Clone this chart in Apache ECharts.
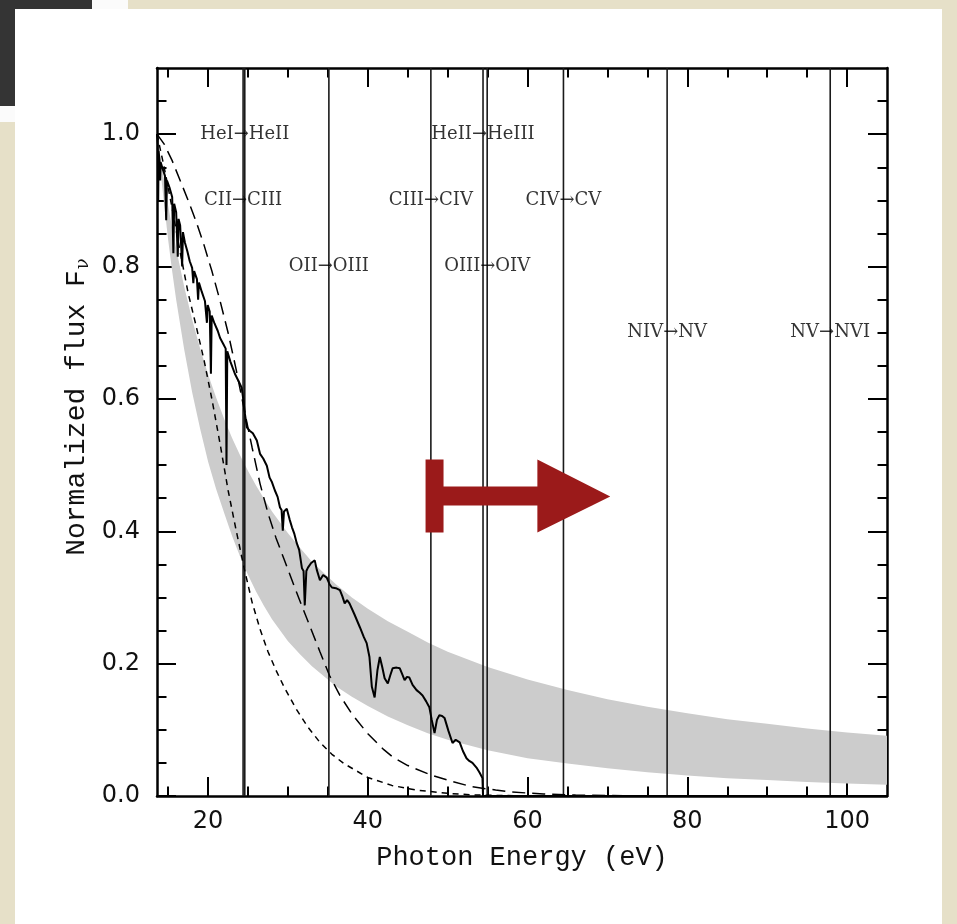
<!DOCTYPE html>
<html>
<head>
<meta charset="utf-8">
<script src="https://cdn.jsdelivr.net/npm/echarts@6/dist/echarts.min.js"></script>
<style>
  html, body { margin: 0; padding: 0; }
  body { width: 957px; height: 924px; position: relative; overflow: hidden; background: #E6E0C8; }
  .dark { position: absolute; left: 0; top: 0; width: 92px; height: 106px; background: #343434; box-shadow: 2px 2px 3px rgba(0,0,0,0.35); }
  .strip1 { position: absolute; left: 92px; top: 0; width: 36px; height: 9px; background: #fbfbfb; }
  .strip2 { position: absolute; left: 0; top: 106px; width: 15px; height: 16px; background: #fbfbfb; }
  .panel { position: absolute; left: 15px; top: 9px; width: 927px; height: 915px; background: #ffffff; }
  #c { position: absolute; left: 0; top: 0; width: 957px; height: 924px; }
</style>
</head>
<body>
<div class="dark"></div>
<div class="strip1"></div>
<div class="strip2"></div>
<div class="panel"></div>
<div id="c"></div>
<script>
// ---------------- data ----------------
const energyGrid = [13.6, 14, 14.5, 15, 15.5, 16, 17, 18, 19, 20, 21, 22, 23, 24, 25, 26, 27, 28, 30, 31.5, 33, 36, 38, 40, 42.5, 45, 47.5, 50, 55, 60, 65, 70, 75, 80, 85, 90, 95, 100, 105];
const bandUpper  = [1.0, 0.967, 0.928, 0.892, 0.858, 0.827, 0.770, 0.720, 0.676, 0.637, 0.602, 0.570, 0.541, 0.515, 0.491, 0.469, 0.449, 0.430, 0.397, 0.375, 0.354, 0.320, 0.300, 0.283, 0.264, 0.248, 0.232, 0.218, 0.195, 0.176, 0.160, 0.146, 0.135, 0.125, 0.116, 0.109, 0.102, 0.096, 0.091];
const bandLower  = [1.0, 0.950, 0.893, 0.840, 0.793, 0.750, 0.675, 0.610, 0.555, 0.505, 0.464, 0.428, 0.393, 0.362, 0.334, 0.309, 0.287, 0.267, 0.234, 0.214, 0.196, 0.166, 0.150, 0.136, 0.120, 0.107, 0.095, 0.085, 0.069, 0.057, 0.049, 0.042, 0.036, 0.031, 0.027, 0.024, 0.021, 0.019, 0.017];

const spectrum = [
  [13.6,1.0],[13.7,0.985],[13.75,0.90],[13.8,0.975],[13.9,0.962],[14.0,0.93],[14.05,0.958],[14.3,0.948],
  [14.6,0.937],[14.75,0.87],[14.85,0.93],[15.2,0.918],[15.5,0.905],[15.65,0.82],[15.75,0.895],[16.0,0.882],
  [16.2,0.815],[16.3,0.872],[16.5,0.862],[16.75,0.80],[16.85,0.852],[17.1,0.836],[17.4,0.823],[17.7,0.808],
  [18.0,0.798],[18.15,0.775],[18.25,0.793],[18.6,0.781],[18.75,0.75],[18.85,0.776],[19.2,0.762],[19.6,0.748],
  [19.85,0.715],[19.95,0.742],[20.2,0.732],[20.35,0.638],[20.45,0.726],[20.8,0.714],[21.2,0.703],[21.5,0.692],
  [21.9,0.683],[22.2,0.676],[22.3,0.50],[22.4,0.672],[22.8,0.656],[23.35,0.638],[23.8,0.627],[24.2,0.617],
  [24.4,0.60],[24.6,0.578],[24.85,0.557],[25.2,0.552],[25.6,0.548],[26.1,0.537],[26.5,0.517],[26.9,0.51],
  [27.35,0.499],[27.7,0.481],[28.0,0.474],[28.35,0.462],[28.7,0.452],[29.0,0.436],[29.2,0.432],[29.35,0.401],
  [29.5,0.43],[29.85,0.434],[30.2,0.418],[30.5,0.406],[30.8,0.396],[31.1,0.382],[31.4,0.372],[31.75,0.344],
  [31.95,0.34],[32.1,0.288],[32.3,0.34],[32.5,0.345],[32.9,0.352],[33.35,0.356],[33.6,0.342],[34.0,0.326],
  [34.4,0.334],[34.85,0.330],[35.2,0.32],[35.5,0.315],[36.0,0.314],[36.5,0.311],[36.8,0.302],[37.1,0.291],
  [37.4,0.296],[37.7,0.291],[38.3,0.275],[39.0,0.255],[39.5,0.24],[39.85,0.231],[40.2,0.21],[40.5,0.165],
  [40.85,0.149],[41.2,0.19],[41.5,0.21],[41.8,0.195],[42.1,0.178],[42.5,0.170],[42.8,0.182],[43.1,0.193],
  [43.6,0.194],[44.0,0.193],[44.3,0.184],[44.6,0.175],[44.9,0.18],[45.2,0.179],[45.6,0.168],[46.1,0.16],
  [46.5,0.156],[46.85,0.152],[47.3,0.143],[47.7,0.134],[48.0,0.115],[48.35,0.095],[48.65,0.115],[48.95,0.122],
  [49.3,0.121],[49.6,0.118],[50.1,0.098],[50.6,0.08],[51.0,0.085],[51.5,0.081],[51.9,0.068],[52.35,0.057],
  [52.7,0.053],[53.1,0.05],[53.6,0.043],[54.0,0.035],[54.35,0.027],[54.42,0.0],[105,0.0]
];

const blackbodyHot = [
  [13.6,1.0],[14.5,0.985],[15.5,0.96],[16.5,0.93],[17.5,0.90],[18.5,0.868],[19.5,0.832],[20.5,0.792],
  [21.5,0.748],[22.5,0.70],[23.5,0.645],[24.5,0.585],[25.5,0.527],[26.5,0.472],[27.5,0.427],[28.5,0.39],
  [29.5,0.358],[31,0.31],[32.5,0.264],[34,0.218],[35.2,0.182],[36.5,0.152],[38,0.124],[40,0.094],
  [42,0.07],[43.1,0.059],[45,0.046],[47.85,0.032],[50,0.024],[53,0.014],[56,0.009],[58,0.006],
  [62,0.003],[66,0.0015],[72,0.0005],[80,0.0001],[90,0.0],[105,0.0]
];

const blackbodyCool = [
  [13.6,1.0],[14.5,0.95],[15.5,0.888],[16.5,0.822],[17.5,0.76],[18.5,0.71],[19.5,0.658],[20.5,0.598],
  [21.5,0.532],[22.5,0.462],[23.5,0.402],[24.5,0.345],[25.5,0.293],[26.5,0.252],[27.5,0.218],[28.5,0.19],
  [29.5,0.165],[31,0.132],[32.5,0.104],[34,0.081],[35.5,0.063],[37,0.049],[40,0.028],[43,0.016],
  [46,0.009],[50,0.004],[53,0.0018],[56,0.0008],[60,0.0003],[70,0.0],[105,0.0]
];

const edgeEnergies = [24.59, 24.38, 35.12, 47.89, 54.42, 54.94, 64.49, 77.47, 97.89];
const edgeLabels   = ['HeI→HeII', 'CII→CIII', 'OII→OIII', 'CIII→CIV', 'HeII→HeIII', 'OIII→OIV', 'CIV→CV', 'NIV→NV', 'NV→NVI'];
const edgeLabelY   = [1.0, 0.9, 0.8, 0.9, 1.0, 0.8, 0.9, 0.7, 0.7];

// annotation arrow outline (data coordinates)
const arrowOutline = [
  [47.225,0.5083],[49.475,0.5083],[49.475,0.4676],[61.225,0.4676],[61.225,0.5083],[70.35,0.4525],
  [61.225,0.3982],[61.225,0.4389],[49.475,0.4389],[49.475,0.3982],[47.225,0.3982]
];

const xMajorTicks = [20, 40, 60, 80, 100];
const xMinorTicks = [15, 25, 30, 35, 45, 50, 55, 65, 70, 75, 85, 90, 95];
const yMajorTicks = [0, 0.2, 0.4, 0.6, 0.8, 1.0];
const yMinorTicks = [0.05, 0.1, 0.15, 0.25, 0.3, 0.35, 0.45, 0.5, 0.55, 0.65, 0.7, 0.75, 0.85, 0.9, 0.95, 1.05];

const X_MIN = 13.6, X_MAX = 105, Y_MIN = 0, Y_MAX = 1.1;

// ---------------- chart ----------------
const chart = echarts.init(document.getElementById('c'), null, { renderer: 'canvas' });
const ink = '#000';
const axisLineStyle = { color: '#000', width: 2.5 };
const tickStyle = { color: '#000', width: 2 };

function xAx(pos, major, showLine) {
  return {
    type: 'value', min: X_MIN, max: X_MAX, position: pos, gridIndex: 0,
    axisLine: { show: showLine, onZero: false, lineStyle: axisLineStyle },
    axisTick: { show: true, inside: true, length: major ? 19 : 9.5, lineStyle: tickStyle,
                customValues: major ? xMajorTicks : xMinorTicks },
    axisLabel: { show: false },
    splitLine: { show: false }, splitArea: { show: false }
  };
}
function yAx(pos, major, showLine) {
  return {
    type: 'value', min: Y_MIN, max: Y_MAX, position: pos, gridIndex: 0,
    axisLine: { show: showLine, onZero: false, lineStyle: axisLineStyle },
    axisTick: { show: true, inside: true, length: major ? 19 : 9.5, lineStyle: tickStyle,
                customValues: major ? yMajorTicks : yMinorTicks },
    axisLabel: { show: false },
    splitLine: { show: false }, splitArea: { show: false }
  };
}

const xMain = xAx('bottom', true, true);
xMain.axisLabel = { show: true, customValues: xMajorTicks, margin: 14,
  fontFamily: 'DejaVu Sans', fontSize: 24, color: '#111' };
xMain.name = 'Photon Energy (eV)';
xMain.nameLocation = 'middle';
xMain.nameGap = 48;
xMain.nameTextStyle = { fontFamily: 'Liberation Mono', fontSize: 27, color: '#111' };

const yMain = yAx('left', true, true);
yMain.axisLabel = { show: true, customValues: yMajorTicks, margin: 17,
  fontFamily: 'DejaVu Sans', fontSize: 24, color: '#111',
  formatter: v => Number(v).toFixed(1) };

const option = {
  animation: false,
  backgroundColor: 'transparent',
  grid: { left: 157, top: 68, right: 70, bottom: 128, containLabel: false },
  xAxis: [xMain, xAx('bottom', false, false), xAx('top', true, true), xAx('top', false, false)],
  yAxis: [yMain, yAx('left', false, false), yAx('right', true, true), yAx('right', false, false)],
  graphic: [{
    type: 'text', x: 77, y: 407, rotation: Math.PI / 2, z: 100,
    style: {
      text: '{a|Normalized flux F}{s|ν}',
      align: 'center', verticalAlign: 'middle',
      rich: {
        a: { fontFamily: 'Liberation Mono', fontSize: 28, fill: '#111', lineHeight: 30, verticalAlign: 'middle' },
        s: { fontFamily: 'DejaVu Serif', fontSize: 18, fill: '#111', lineHeight: 30, verticalAlign: 'bottom', padding: [0, 0, 0, 1] }
      }
    }
  }],
  series: [
    { // grey band
      type: 'custom', xAxisIndex: 0, yAxisIndex: 0, z: 1, silent: true, clip: true,
      data: [[energyGrid[0], bandUpper[0]]],
      renderItem: (params, api) => {
        const pts = [];
        for (let i = 0; i < energyGrid.length; i++) pts.push(api.coord([energyGrid[i], bandUpper[i]]));
        for (let i = energyGrid.length - 1; i >= 0; i--) pts.push(api.coord([energyGrid[i], bandLower[i]]));
        return { type: 'polygon', shape: { points: pts }, style: { fill: '#cccccc' } };
      }
    },
    { // ionization edges
      type: 'custom', xAxisIndex: 0, yAxisIndex: 0, z: 2, silent: true, clip: true,
      data: edgeEnergies.map(e => [e, Y_MAX]),
      renderItem: (params, api) => {
        const e = api.value(0);
        const p0 = api.coord([e, Y_MIN]);
        const p1 = api.coord([e, Y_MAX]);
        return { type: 'line', shape: { x1: p0[0], y1: p0[1], x2: p1[0], y2: p1[1] },
                 style: { stroke: '#1a1a1a', lineWidth: 1.6 } };
      }
    },
    { type: 'line', name: 'hot', data: blackbodyHot, showSymbol: false, z: 3, silent: true,
      lineStyle: { color: ink, width: 1.5, type: [13, 7] } },
    { type: 'line', name: 'cool', data: blackbodyCool, showSymbol: false, z: 3, silent: true,
      lineStyle: { color: ink, width: 1.5, type: [6, 5] } },
    { type: 'line', name: 'spectrum', data: spectrum, showSymbol: false, z: 4, silent: true,
      lineStyle: { color: ink, width: 2 } },
    { // edge labels
      type: 'scatter', z: 5, silent: true, symbolSize: 1, itemStyle: { color: 'rgba(0,0,0,0)' },
      data: edgeEnergies.map((e, i) => ({ value: [e, edgeLabelY[i]], name: edgeLabels[i] })),
      label: { show: true, position: 'inside', formatter: '{b}',
               fontFamily: 'DejaVu Serif', fontSize: 18, color: '#000' }
    },
    { // red arrow annotation
      type: 'custom', z: 6, silent: true, clip: false,
      data: [[arrowOutline[0][0], arrowOutline[0][1]]],
      renderItem: (params, api) => ({
        type: 'polygon',
        shape: { points: arrowOutline.map(p => api.coord(p)) },
        style: { fill: '#9B1A1A' }
      })
    }
  ]
};
chart.setOption(option);
</script>
</body>
</html>
